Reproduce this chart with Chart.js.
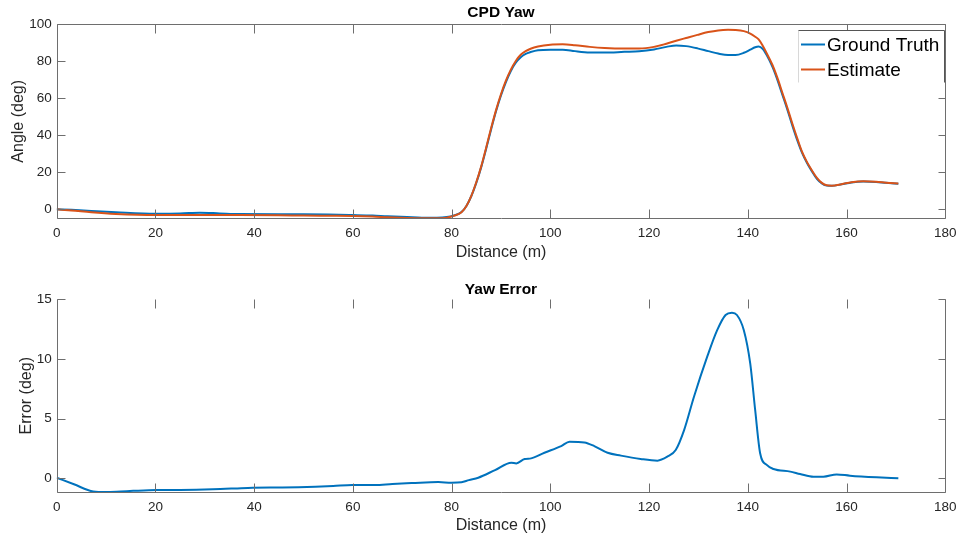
<!DOCTYPE html>
<html>
<head>
<meta charset="utf-8">
<script src="https://cdn.jsdelivr.net/npm/chart.js@4.4.1/dist/chart.umd.min.js"></script>
<style>
  html, body { margin: 0; padding: 0; background: #fff; }
  .wrap { position: absolute; left: 0; width: 963px; }
  #yawWrap { top: 0; height: 270px; }
  #errWrap { top: 270px; height: 269px; }
</style>
</head>
<body>
<div class="wrap" id="yawWrap"><canvas id="yawChart" width="963" height="270"></canvas></div>
<div class="wrap" id="errWrap"><canvas id="errChart" width="963" height="269"></canvas></div>
<script>
// distance samples (m) shared by both yaw series
const distance = [0, 3, 7, 12, 20, 25, 29, 33, 37, 45, 50, 55, 60, 64, 67, 71, 74, 77, 79, 80.5, 82, 83, 84, 85, 86, 87, 88, 89, 90, 91, 92, 93, 94, 95, 96, 97.5, 100, 102.5, 105, 108, 111, 115, 118, 121, 123.5, 125.5, 127.5, 129.8, 132, 134, 136, 137.5, 139.2, 140.5, 141.5, 142.2, 143, 143.8, 145, 146, 147, 148, 149, 150, 151, 152, 153, 154, 155, 156, 157, 159, 161, 163.4, 166, 168, 170.5];
const groundTruth = [0, -0.3, -0.9, -1.6, -2.4, -2.3, -1.8, -2.2, -2.6, -2.7, -2.7, -2.8, -3.1, -3.4, -3.8, -4.2, -4.5, -4.5, -4.2, -3.3, -1.5, 1.8, 7.2, 14.3, 22.8, 32.8, 43.2, 53, 61.5, 68.8, 74.8, 79.2, 82.2, 84, 85, 86, 86.3, 86.3, 85.5, 84.8, 84.7, 85.1, 85.4, 86.4, 87.8, 88.6, 88.2, 87.0, 85.5, 84.2, 83.4, 83.4, 84.6, 86.3, 87.6, 88.0, 86.8, 83.5, 77, 70, 62, 54, 45.5, 37.5, 30.5, 25, 20.5, 16.5, 14, 12.8, 12.7, 13.5, 14.5, 15, 14.8, 14.3, 13.8];
const estimate = [0, -0.6, -1.6, -2.5, -3.1, -3.1, -3.1, -3.1, -3.1, -3.2, -3.4, -3.5, -3.6, -3.9, -4.3, -4.7, -4.85, -4.85, -4.5, -3.5, -1.6, 1.8, 7.3, 14.6, 23.2, 33.3, 43.8, 53.6, 62.2, 69.5, 75.5, 80.2, 83.5, 85.5, 86.8, 88, 89, 89.2, 88.7, 87.8, 87.2, 86.9, 86.9, 87.8, 89.5, 91.1, 92.6, 94.3, 95.8, 96.7, 97.0, 96.9, 96.3, 95, 93.3, 91.8, 88.5, 84.5, 78, 71, 63, 55, 46.5, 38.5, 31, 25.5, 21, 17, 14.3, 13, 12.8, 13.6, 14.6, 15.1, 14.9, 14.4, 13.9];

// yaw error
const errDistance = [0, 3.5, 7.4, 10, 13, 15.5, 20.2, 25, 31.6, 36, 39.7, 45.7, 52.4, 56, 59.9, 64.5, 68, 71.9, 77.3, 80, 82, 83.5, 85.4, 88.8, 92.1, 93.1, 94.8, 96.1, 98.8, 102.2, 103.9, 106.9, 108.9, 111.6, 114.3, 118.3, 121.7, 123.7, 125.4, 127.1, 129.1, 131.8, 133.8, 135.5, 136.8, 137.8, 139.2, 140.5, 141.5, 142.5, 143.9, 145.2, 148.6, 150.6, 153.3, 155.3, 158, 160.7, 166.1, 170.5];
const yawError = [0.05, -0.5, -1.1, -1.15, -1.1, -1.05, -0.98, -0.97, -0.92, -0.85, -0.78, -0.76, -0.7, -0.64, -0.56, -0.56, -0.47, -0.4, -0.31, -0.37, -0.33, -0.15, 0.05, 0.69, 1.31, 1.25, 1.62, 1.67, 2.14, 2.7, 3.07, 3.0, 2.7, 2.14, 1.9, 1.62, 1.48, 1.81, 2.37, 4.04, 6.83, 10.2, 12.4, 13.67, 13.86, 13.67, 12.4, 9.6, 5.7, 2.1, 1.1, 0.78, 0.56, 0.36, 0.13, 0.13, 0.33, 0.22, 0.08, 0.0];

const xTicks = [0, 20, 40, 60, 80, 100, 120, 140, 160, 180];
const yawTicks = [0, 20, 40, 60, 80, 100];
const errTicks = [0, 5, 10, 15];

const FONT = "'Liberation Sans', Arial, sans-serif";
const TEXT = "#262626";
const AXIS = "#6e6e6e";

function pts(xs, ys) {
  return xs.map((x, i) => ({ x: x, y: ys[i] }));
}

// MATLAB style box: inward ticks, right (and maybe top) edge, plus legend
const boxAxes = {
  id: "boxAxes",
  afterDraw(chart, args, opts) {
    const { ctx, chartArea: a, scales } = chart;
    const x = scales.x, y = scales.y;
    ctx.save();
    ctx.strokeStyle = AXIS;
    ctx.lineWidth = 1;
    ctx.beginPath();
    const L = Math.round(a.left) + 0.5, R = Math.round(a.right) + 0.5;
    const T = Math.round(a.top) + 0.5, B = Math.round(a.bottom) + 0.5;
    ctx.moveTo(L, T); ctx.lineTo(L, B); ctx.lineTo(R, B); ctx.lineTo(R, T);
    if (opts.topLine) { ctx.lineTo(L, T); }
    x.ticks.forEach(t => {
      const px = Math.round(x.getPixelForValue(t.value)) + 0.5;
      ctx.moveTo(px, B); ctx.lineTo(px, B - 9);
      ctx.moveTo(px, T); ctx.lineTo(px, T + 9);
    });
    y.ticks.forEach(t => {
      const py = Math.round(y.getPixelForValue(t.value)) + 0.5;
      ctx.moveTo(L, py); ctx.lineTo(L + 8, py);
      ctx.moveTo(R, py); ctx.lineTo(R - 7, py);
    });
    ctx.stroke();

    if (opts.legend) {
      const lx = 798.5, ly = 30.5, lw = 146, lh = 52;
      ctx.fillStyle = "#fff";
      ctx.fillRect(lx, ly, lw, lh);
      ctx.strokeStyle = "#d8d8d8";
      ctx.beginPath(); ctx.moveTo(lx, ly); ctx.lineTo(lx, ly + lh); ctx.stroke();
      ctx.strokeStyle = "#555";
      ctx.beginPath(); ctx.moveTo(lx, ly); ctx.lineTo(lx + lw, ly); ctx.lineTo(lx + lw, ly + lh); ctx.stroke();
      ctx.font = "19px " + FONT;
      ctx.textBaseline = "middle";
      ctx.textAlign = "left";
      chart.data.datasets.forEach((ds, i) => {
        const cy = 44.5 + i * 25;
        ctx.strokeStyle = ds.borderColor;
        ctx.lineWidth = 2;
        ctx.beginPath(); ctx.moveTo(801, cy); ctx.lineTo(825, cy); ctx.stroke();
        ctx.fillStyle = "#000";
        ctx.fillText(ds.label, 827, cy + 1);
      });
    }
    ctx.restore();
  }
};

function makeOptions(cfg) {
  return {
    responsive: false,
    animation: false,
    devicePixelRatio: 1,
    layout: { padding: { left: 0, right: 13.7, top: 0, bottom: 0 } },
    plugins: {
      legend: { display: false },
      tooltip: { enabled: false },
      title: {
        display: true,
        text: cfg.title,
        fullSize: false,
        color: "#000",
        font: { family: FONT, size: 15.5, weight: "bold", lineHeight: 1.2 },
        padding: cfg.titlePad
      },
      boxAxes: { topLine: cfg.topLine, legend: cfg.legend }
    },
    elements: { point: { radius: 0 } },
    scales: {
      x: {
        type: "linear",
        min: 0,
        max: 180,
        afterFit(s) { s.height = cfg.xHeight; },
        afterBuildTicks(s) { s.ticks = xTicks.map(v => ({ value: v })); },
        grid: { display: false, drawTicks: false },
        border: { display: false },
        ticks: { color: TEXT, padding: 6.5, maxRotation: 0, font: { family: FONT, size: 13.5 } },
        title: {
          display: true,
          text: "Distance (m)",
          color: TEXT,
          font: { family: FONT, size: 16 },
          padding: { top: 0, bottom: cfg.xTitlePad }
        }
      },
      y: {
        type: "linear",
        min: cfg.yMin,
        max: cfg.yMax,
        afterFit(s) { s.width = 56.7; },
        afterBuildTicks(s) { s.ticks = cfg.yTicks.map(v => ({ value: v })); },
        grid: { display: false, drawTicks: false },
        border: { display: false },
        ticks: { color: TEXT, padding: 5, font: { family: FONT, size: 13.5 } },
        title: {
          display: true,
          text: cfg.yTitle,
          color: TEXT,
          font: { family: FONT, size: 16 },
          padding: { top: cfg.yTitlePad, bottom: 0 }
        }
      }
    }
  };
}

new Chart(document.getElementById("yawChart"), {
  type: "line",
  data: {
    datasets: [
      // estimate is plotted after ground truth, so it sits on top
      { label: "Ground Truth", order: 1, data: pts(distance, groundTruth), borderColor: "#0072BD", borderWidth: 2, cubicInterpolationMode: "monotone", fill: false },
      { label: "Estimate", order: 0, data: pts(distance, estimate), borderColor: "#D95319", borderWidth: 2, cubicInterpolationMode: "monotone", fill: false }
    ]
  },
  options: makeOptions({
    title: "CPD Yaw",
    titlePad: { top: 3.5, bottom: 2.2 },
    xHeight: 51.7,
    xTitlePad: 8,
    yMin: -4.86,
    yMax: 100,
    yTicks: yawTicks,
    yTitle: "Angle (deg)",
    yTitlePad: 9,
    topLine: true,
    legend: true
  }),
  plugins: [boxAxes]
});

new Chart(document.getElementById("errChart"), {
  type: "line",
  data: {
    datasets: [
      { label: "Yaw Error", data: pts(errDistance, yawError), borderColor: "#0072BD", borderWidth: 2, cubicInterpolationMode: "monotone", fill: false }
    ]
  },
  options: makeOptions({
    title: "Yaw Error",
    titlePad: { top: 10.5, bottom: 0 },
    xHeight: 46.7,
    xTitlePad: 3.5,
    yMin: -1.17,
    yMax: 15,
    yTicks: errTicks,
    yTitle: "Error (deg)",
    yTitlePad: 16.5,
    topLine: false,
    legend: false
  }),
  plugins: [boxAxes]
});
</script>
</body>
</html>
